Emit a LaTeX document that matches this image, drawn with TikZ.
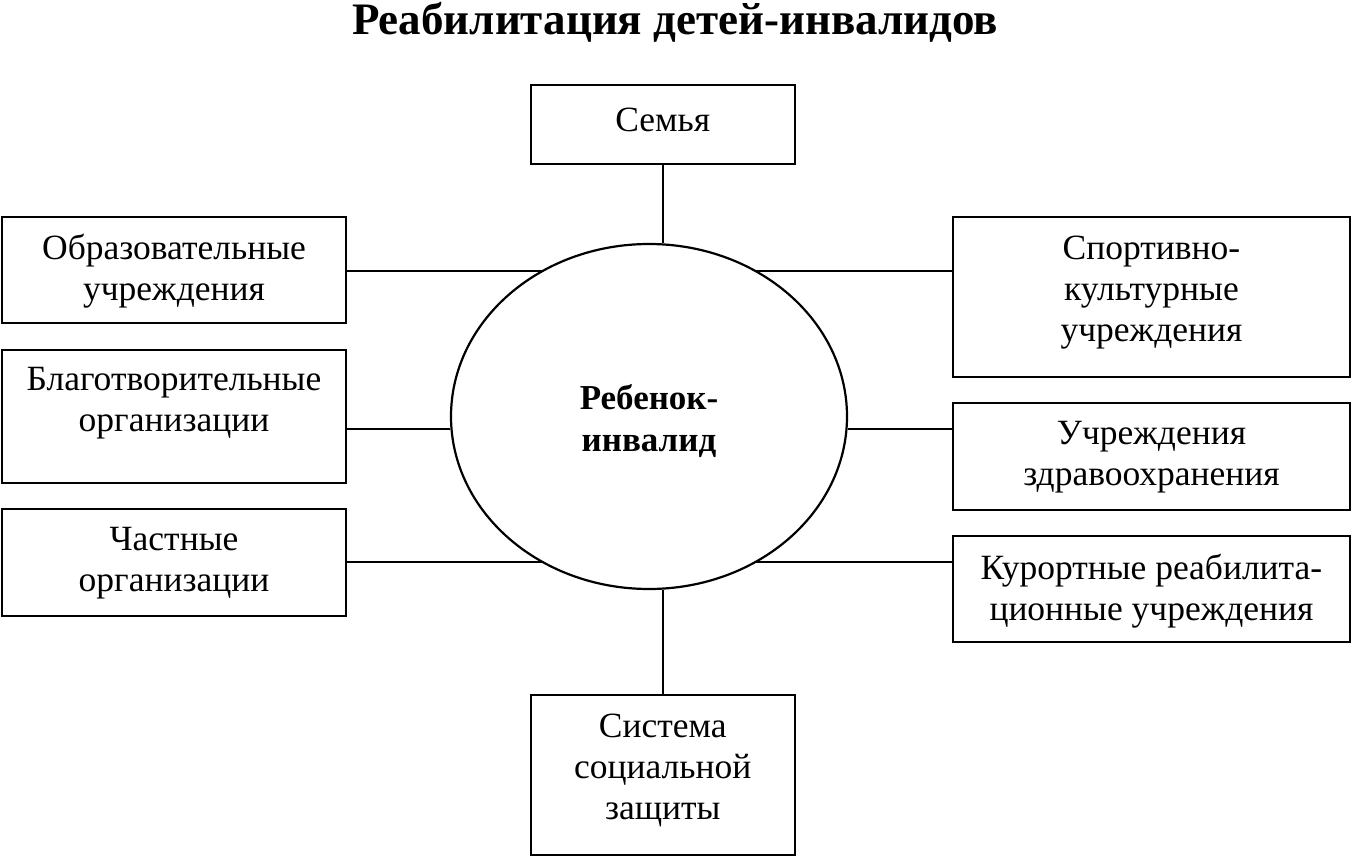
\documentclass[tikz,border=0pt]{standalone}
\usepackage{fontspec}
\setmainfont{Liberation Serif}
\usetikzlibrary{shapes.geometric}
\begin{document}
\begin{tikzpicture}[x=1pt,y=-1pt,
  box/.style={draw, line width=2.2pt, rectangle, inner sep=0pt},
  conn/.style={line width=2.2pt},
  lbl/.style={align=center, inner sep=0pt, font=\fontsize{35.5}{41}\selectfont},
]
\useasboundingbox (0,0) rectangle (1352,856);
\node[font=\bfseries\fontsize{45}{48}\selectfont, inner sep=0pt] (title) at (675,22) {Реабилитация детей-инвалидов};
\node[draw, ellipse, line width=2.2pt, minimum width=396pt, minimum height=345pt, inner sep=0pt] (child) at (649,416.5) {};
\node[align=center, inner sep=0pt, font=\bfseries\fontsize{35}{42}\selectfont] (childtxt) at (649,421) {Ребенок-\\инвалид};

\node[box, minimum width=264pt, minimum height=79pt] (semya) at (662.8,124.5) {};
\node[lbl] (semyatxt) at (662.8,120) {Семья};

\node[box, minimum width=344pt, minimum height=106pt] (l1) at (174,270) {};
\node[lbl] (l1txt) at (174,271) {Образовательные\\учреждения};
\node[box, minimum width=344pt, minimum height=133pt] (l2) at (174,416.5) {};
\node[lbl] (l2txt) at (174,403) {Благотворительные\\организации};
\node[box, minimum width=344pt, minimum height=107pt] (l3) at (174,562.5) {};
\node[lbl] (l3txt) at (174,563) {Частные\\организации};

\node[box, minimum width=397pt, minimum height=160pt] (r1) at (1151.5,297) {};
\node[lbl] (r1txt) at (1151.5,293) {Спортивно-\\культурные\\учреждения};
\node[box, minimum width=397pt, minimum height=107pt] (r2) at (1151.5,456.5) {};
\node[lbl] (r2txt) at (1151.5,457) {Учреждения\\здравоохранения};
\node[box, minimum width=397pt, minimum height=106pt] (r3) at (1151.5,589) {};
\node[lbl] (r3txt) at (1151.5,591) {Курортные реабилита-\\ционные учреждения};

\node[box, minimum width=264pt, minimum height=160pt] (bot) at (662.8,775) {};
\node[lbl] (bottxt) at (662.8,770) {Система\\социальной\\защиты};

\coordinate (ytop) at (649,271);
\coordinate (ymid) at (649,429);
\coordinate (ybot) at (649,562);

\draw[conn] (l1.east |- ytop) -- (child.126 |- ytop);
\draw[conn] (r1.west |- ytop) -- (child.54 |- ytop);
\draw[conn] (l2.east |- ymid) -- (child.west |- ymid);
\draw[conn] (r2.west |- ymid) -- (child.east |- ymid);
\draw[conn] (l3.east |- ybot) -- (child.234 |- ybot);
\draw[conn] (r3.west |- ybot) -- (child.306 |- ybot);
\draw[conn] (semya.south) -- (semya.south |- child.north);
\draw[conn] (bot.north) -- (bot.north |- child.south);
\end{tikzpicture}
\end{document}
